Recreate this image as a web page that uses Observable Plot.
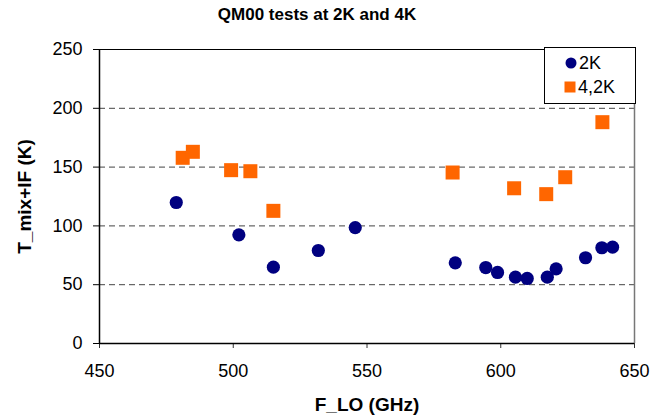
<!DOCTYPE html>
<html>
<head>
<meta charset="utf-8">
<script src="https://cdn.jsdelivr.net/npm/d3@7"></script>
<script src="https://cdn.jsdelivr.net/npm/@observablehq/plot@0.6"></script>
<style>
  html, body { margin: 0; padding: 0; background: #fff; }
  #chart { position: relative; width: 654px; height: 416px; font-family: "Liberation Sans", Arial, sans-serif; }
  .legend { position: absolute; left: 544px; top: 47px; width: 92px; height: 57px; background: #fff;
            border: 1px solid #000; box-sizing: border-box; font-size: 18px; }
  .legend .row { position: absolute; left: 0; display: flex; align-items: center; }
  .legend svg { display: block; }
</style>
</head>
<body>
<div id="chart"></div>
<script>
// QM00 mixer noise temperature vs LO frequency, measured at two bath temperatures
const seriesNames = ["2K", "4,2K"];

const lo2K = [478.7, 502.1, 515.0, 531.8, 545.6, 583.0, 594.4, 598.8, 605.5, 609.9, 617.4, 620.7, 631.7, 637.8, 641.8];
const t2K  = [119.9, 92.4, 64.9, 79.1, 98.6, 68.6, 64.6, 60.4, 56.4, 55.3, 56.4, 63.5, 72.9, 81.4, 81.9];

const lo4K = [481.1, 484.9, 499.2, 506.4, 515.0, 582.0, 605.0, 617.0, 624.1, 638.0];
const t4K  = [157.9, 163.0, 147.4, 146.5, 112.8, 145.4, 132.0, 127.0, 141.4, 188.2];

const xTicks = [450, 500, 550, 600, 650];
const yTicks = [0, 50, 100, 150, 200, 250];
const gridLevels = [50, 100, 150, 200];

const titleText = "QM00 tests at 2K and 4K";
const xTitle = "F_LO (GHz)";
const yTitle = "T_mix+IF (K)";

const colors = { "2K": "#000080", "4,2K": "#FF6600" };

const rows2K = lo2K.map((f, i) => ({ f, t: t2K[i] }));
const rows4K = lo4K.map((f, i) => ({ f, t: t4K[i] }));

const font = "Liberation Sans, Arial, sans-serif";

const chart = Plot.plot({
  width: 654,
  height: 416,
  marginLeft: 99,
  marginRight: 20,
  marginTop: 49,
  marginBottom: 73,
  style: { fontFamily: font, fontSize: "18px", color: "#000", background: "#fff" },
  x: { domain: [450, 650] },
  y: { domain: [0, 250] },
  marks: [
    Plot.ruleY(gridLevels, { stroke: "#444", strokeWidth: 1, strokeDasharray: "6,4" }),
    Plot.ruleY([250], { stroke: "#000", strokeWidth: 1.2 }),
    Plot.ruleX([650], { stroke: "#777", strokeWidth: 1.5 }),
    Plot.axisX({ ticks: xTicks, tickSize: 5, tickPadding: 16, tickFormat: d3.format("d"),
                 label: null, stroke: "#333", fontSize: 18 }),
    Plot.axisY({ ticks: yTicks, tickSize: 6, tickPadding: 11, tickFormat: d3.format("d"),
                 label: null, stroke: "#000", fontSize: 18 }),
    Plot.ruleY([0], { stroke: "#000", strokeWidth: 1.5 }),
    Plot.ruleX([450], { stroke: "#000", strokeWidth: 1.5 }),
    Plot.dot(rows4K, { x: "f", y: "t", symbol: "square", r: 7.9, fill: colors["4,2K"], stroke: null }),
    Plot.dot(rows2K, { x: "f", y: "t", r: 6.6, fill: colors["2K"], stroke: null }),
    Plot.text([titleText], { frameAnchor: "top", lineAnchor: "middle", textAnchor: "middle", dx: -50, dy: -35,
                             fontWeight: "bold", fontSize: 17 }),
    Plot.text([xTitle], { frameAnchor: "bottom", lineAnchor: "middle", textAnchor: "middle", dy: 61,
                          fontWeight: "bold", fontSize: 19 }),
    Plot.text([yTitle], { frameAnchor: "left", lineAnchor: "middle", textAnchor: "middle", rotate: -90, dx: -75,
                          fontWeight: "bold", fontSize: 19 })
  ]
});

const root = document.getElementById("chart");
root.appendChild(chart);

// Legend box in the upper right corner
const legend = document.createElement("div");
legend.className = "legend";
seriesNames.forEach((name, i) => {
  const row = document.createElement("div");
  row.className = "row";
  row.style.top = (i === 0 ? 4 : 28) + "px";
  row.style.left = i === 0 ? "20px" : "19px";
  const sym = i === 0
    ? `<svg width="12" height="22"><circle cx="6" cy="11" r="5.5" fill="${colors[name]}"/></svg>`
    : `<svg width="12" height="22"><rect x="0.5" y="5.5" width="11" height="11" fill="${colors[name]}"/></svg>`;
  row.innerHTML = sym + `<span style="margin-left:2px;line-height:22px">${name}</span>`;
  legend.appendChild(row);
});
root.appendChild(legend);
</script>
</body>
</html>
